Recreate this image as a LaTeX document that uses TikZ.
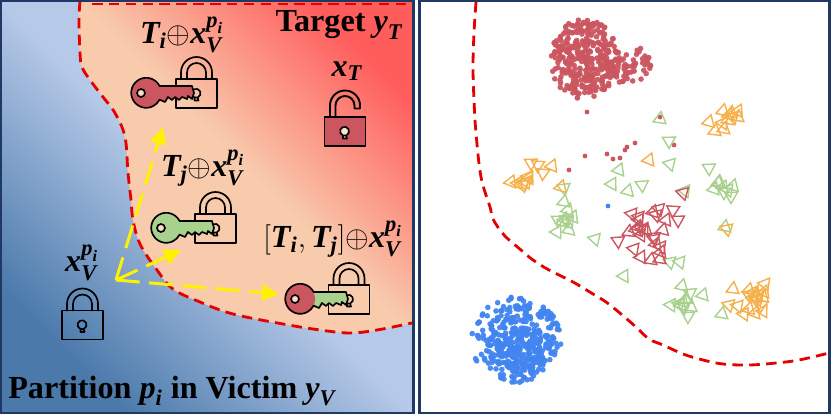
\documentclass[tikz,border=0pt]{standalone}
\usepackage{amsmath}
\usepackage{fontspec}
\setmainfont{Liberation Serif}
\usetikzlibrary{arrows.meta, positioning}

\definecolor{navy}{HTML}{1F3864}
\definecolor{bluedark}{HTML}{4A79AA}
\definecolor{bluelight}{HTML}{B6C9E8}
\definecolor{peach}{HTML}{F8CBAD}
\definecolor{hotred}{HTML}{FF5C5C}
\definecolor{keyred}{HTML}{CB5660}
\definecolor{keygreen}{HTML}{A9D18E}
\definecolor{dotblue}{HTML}{4285F0}
\definecolor{triorange}{HTML}{F5B04A}

\newcommand{\bi}[1]{\text{\bfseries\itshape #1}}
\newcommand{\xv}{\bi{x}_{\bi{V}}^{\bi{p}_{\bi{i}}}}
\newcommand{\tris}[2]{\foreach \x/\y in {#2}{
    \pgfmathsetmacro\rot{mod(\x*7+\y*3,60)-5}
    \draw[#1,shift={(\x,\y)},rotate=\rot] (90:7.5) -- (210:7.5) -- (330:7.5) -- cycle;}}

\begin{document}
\begin{tikzpicture}[
        x=0.02cm, y=-0.02cm,
        panel/.style = {draw=navy, line width=1.7pt},
        bound/.style = {draw=red!90!black, line width=1.6pt, dash pattern=on 6pt off 3.6pt},
        ar/.style    = {draw=yellow, line width=1.7pt, dash pattern=on 13.5pt off 5.5pt, -{Triangle[length=3.4mm,width=3.2mm,fill=yellow,sep=0pt]}},
        lk/.style    = {draw=black, line width=0.95pt, line join=round},
        lbl/.style   = {font=\fontsize{18.3}{22}\selectfont\bfseries, inner sep=0pt},
        trio/.style  = {draw=triorange, line width=0.8pt},
        trig/.style  = {draw=keygreen, line width=0.8pt},
        trir/.style  = {draw=keyred, line width=0.8pt},
        pics/lock/.style = {code={
            \draw[lk] (-15.5,-14) -- (-15.5,-21) arc[start angle=180,end angle=360,radius=15.5] -- (15.5,-14);
            \draw[lk] (-9.5,-14) -- (-9.5,-21) arc[start angle=180,end angle=360,radius=9.5] -- (9.5,-14);
            \draw[lk] (-20.5,-14.5) -- (20.5,-14.5) -- (20.5,14.5) -- (-20.5,14.5) -- cycle;
            \draw[lk] (-2,7) -- (-2,4) arc[start angle=110,end angle=-290,radius=4.5] -- (2,7) -- cycle;
        }},
        pics/openlock/.style = {code={
            \draw[lk, line width=1.1pt] (-15,-14) -- (-15,-26) arc[start angle=180,end angle=360,radius=15] -- (15,-23) -- (9.5,-23) -- (9.5,-26) arc[start angle=360,end angle=180,radius=9.5] -- (-9.5,-14);
            \draw[lk, fill=keyred] (-20.5,-14.5) -- (20.5,-14.5) -- (20.5,14.5) -- (-20.5,14.5) -- cycle;
            \draw[lk, fill=peach!60!white] (-2,7) -- (-2,4) arc[start angle=110,end angle=-290,radius=4.5] -- (2,7) -- cycle;
        }},
        pics/key/.style n args = {2}{code={
            \path[fill=#2] (13.6,-7) arc[start angle=-27,end angle=-333,radius=15] -- (19,9) -- (22,4) -- (26,7) -- (29,4) -- (33,7) -- (36,4) -- (41,6) -- (42,3) -- (46,6) -- (48,0) -- (46,-7) -- cycle;
            \fill[#1] (0,0) circle (15);
            \draw[lk] (13.6,-7) arc[start angle=-27,end angle=-333,radius=15] -- (19,9) -- (22,4) -- (26,7) -- (29,4) -- (33,7) -- (36,4) -- (41,6) -- (42,3) -- (46,6) -- (48,0) -- (46,-7) -- cycle;
            \draw[lk, fill=peach!70!white] (-5,0) circle (4);
        }}
    ]
    \useasboundingbox (0,0) rectangle (831,415);

    % left panel
    \shade[bottom color=bluedark, top color=bluelight, middle color=bluelight, shading angle=-45] (1,1) rectangle (413,413);
    \shade[bottom color=peach, top color=hotred, middle color=peach, shading angle=-45]
        plot[smooth, tension=0.6] coordinates {(80,1) (79,20) (80,53) (82,67) (90,80) (103,97) (115,113) (125,137) (128,173) (131,200) (133,220) (140,244) (157,270) (173,289) (200,302) (233,314) (283,324) (320,330) (350,333) (377,330) (412,323)}
        -- (412,1) -- cycle;
    \draw[bound] plot[smooth, tension=0.6] coordinates {(80,1) (79,20) (80,53) (82,67) (90,80) (103,97) (115,113) (125,137) (128,173) (131,200) (133,220) (140,244) (157,270) (173,289) (200,302) (233,314) (283,324) (320,330) (350,333) (377,330) (412,323)};
    \draw[bound, line width=0.8pt] (92,4) -- (412,4);

    \pic at (82.5,325) {lock};
    \pic at (196.5,93.5) {lock};
    \pic at (215.5,228.5) {lock};
    \pic at (349,299.5) {lock};
    \pic at (345,131.5) {openlock};
    \pic at (146,93) {key={keyred}{keyred}};
    \pic at (166,228) {key={keygreen}{keygreen}};
    \pic at (300,299) {key={keyred}{keygreen}};

    \coordinate (src) at (116,280);
    \coordinate (ti) at (163,127);
    \coordinate (tj) at (181,250);
    \coordinate (tij) at (279,294);
    \draw[ar] (src) -- (ti);
    \draw[ar] (src) -- (tj);
    \draw[ar] (src) -- (tij);

    \node[lbl] (target) at (339,25) {Target $\bi{y}_{\bi{T}}$};
    \node[lbl] (lti) at (182,35) {$\bi{T}_{\bi{i}}{\oplus}\xv$};
    \node[lbl] (ltj) at (203,168) {$\bi{T}_{\bi{j}}{\oplus}\xv$};
    \node[lbl] (ltij) at (333,239) {$[\bi{T}_{\bi{i}},\bi{T}_{\bi{j}}]{\oplus}\xv$};
    \node[lbl] (lxt) at (347,71) {$\bi{x}_{\bi{T}}$};
    \node[lbl] (lxv) at (82,263) {$\xv$};
    \node[lbl, anchor=base west] (part) at (8,398) {Partition $\bi{p}_{\bi{i}}$ in Victim $\bi{y}_{\bi{V}}$};

    \draw[panel] (1,1) rectangle (413,413);

    % right panel
    \draw[bound] plot[smooth, tension=0.6] coordinates {(476,2) (474,33) (473,67) (474,100) (476,133) (481,177) (490,207) (493,219) (504,235) (521,250) (533,260) (549,270) (573,282) (593,294) (606,302) (621,314) (636,327) (649,339) (663,345) (683,354) (703,360) (723,364) (749,365) (776,363) (799,360) (829,353)};

    \pgfmathsetseed{11}
    \foreach \i in {1,...,330}{
        \pgfmathsetmacro\ang{rnd*360}
        \pgfmathsetmacro\rad{sqrt(rnd)}
        \fill[keyred, opacity=0.95] ({584+34*\rad*cos(\ang)},{59+40*\rad*sin(\ang)}) circle (2.8);
    }
    \foreach \i in {1,...,70}{
        \pgfmathsetmacro\ang{rnd*360}
        \pgfmathsetmacro\rad{sqrt(rnd)}
        \fill[keyred, opacity=0.95] ({626+25*\rad*cos(\ang)},{64+20*\rad*sin(\ang)}) circle (2.8);
    }
    \foreach \i in {1,...,280}{
        \pgfmathsetmacro\ang{rnd*360}
        \pgfmathsetmacro\rad{sqrt(rnd)}
        \fill[dotblue, opacity=0.95] ({516+45*\rad*cos(\ang)},{340+43*\rad*sin(\ang)}) circle (2.8);
    }
    \foreach \i in {1,...,140}{
        \pgfmathsetmacro\ang{rnd*360}
        \pgfmathsetmacro\rad{sqrt(rnd)}
        \fill[dotblue, opacity=0.95] ({524+26*\rad*cos(\ang)},{350+24*\rad*sin(\ang)}) circle (2.8);
    }
    \foreach \x/\y in {587/112, 660/117, 674/145, 635/143, 627/147, 625/150, 607/154, 620/158, 613/159, 585/156, 569/170}{
        \fill[keyred] (\x,\y) circle (2.4);
    }
    \fill[dotblue] (608,206) circle (2.4);

    \tris{trig}{660/119, 669/141, 670/164, 709/168, 619/170, 612/184, 628/191, 642/185, 685/191, 564/202, 564/188,
        718/183, 733/186, 714/189, 723/187, 724/192, 731/196, 728/190, 719/182,
        568/210, 558/220, 566/220, 573/217, 569/222, 563/222, 557/232, 569/230, 564/219,
        595/239, 670/262, 680/262, 624/276, 725/227,
        682/286, 703/295, 690/293, 671/305, 679/304, 683/302, 686/299, 691/307, 688/316, 684/307, 681/305, 722/314}
    \tris{trio}{723/111, 738/111, 709/122, 715/131, 724/129, 723/123, 729/115, 733/117, 738/117, 731/113, 728/120,
        531/163, 538/165, 552/166, 543/173, 511/182, 518/183, 523/185, 528/177, 529/178, 526/182, 524/183, 561/187, 649/160,
        733/289, 765/284, 749/290, 764/292, 756/294, 759/295, 753/297, 763/297, 756/300, 761/305, 749/295,
        729/305, 738/306, 744/314, 749/309, 755/313, 763/311, 754/292, 758/299, 727/229}
    \tris{trir}{683/193, 632/214, 639/220, 653/212, 659/209, 673/210, 678/220, 666/220, 656/215, 629/232, 641/229, 638/227, 644/229,
        641/235, 663/230, 654/239, 656/244, 661/247, 661/252, 634/249, 641/257, 651/260, 660/259, 654/237, 636/230, 646/230, 639/217, 618/241}

    \draw[panel] (419,1) rectangle (829.5,413);
\end{tikzpicture}
\end{document}
